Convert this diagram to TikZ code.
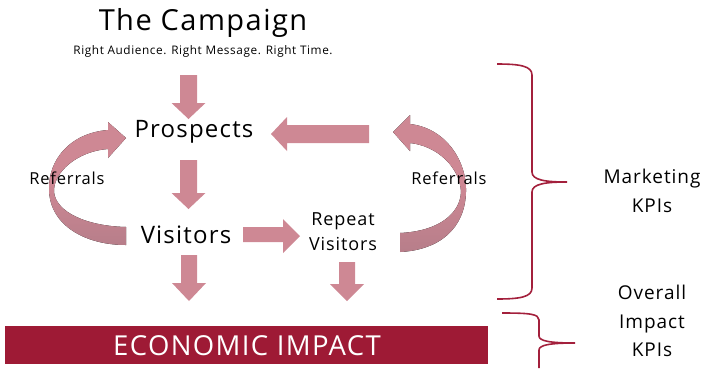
\documentclass[tikz,border=0pt]{standalone}
\usepackage{fontspec}
\setmainfont{Open Sans}[LetterSpace=5]
\definecolor{apink}{RGB}{206,136,148}
\definecolor{adark}{RGB}{183,126,138}
\definecolor{bar}{RGB}{158,26,53}
\definecolor{brace}{RGB}{163,32,60}
\newcommand\dnarr[5]{% x, ytop, ybase, ytip, shaft half width
  \fill[apink] (#1-#5,#2) -- (#1+#5,#2) -- (#1+#5,#3) -- (#1+17,#3) -- (#1,#4) -- (#1-17,#3) -- (#1-#5,#3) -- cycle;}
\begin{document}
\begin{tikzpicture}[x=1pt,y=-1pt,
  lbl/.style={inner sep=0pt, align=center, text=black},
  bracestyle/.style={draw=brace, line width=1.6pt}]
\useasboundingbox (0,0) rectangle (706,368);
% texts
\node[lbl, font=\fontsize{29}{30}\selectfont] (title) at (203,23) {The Campaign};
\node[lbl, font=\fontsize{11.8}{12}\selectfont] (sub) at (203,51) {Right Audience. Right Message. Right Time.};
\node[lbl, font=\fontsize{24}{25}\selectfont] (pros) at (194,132) {Prospects};
\node[lbl, font=\fontsize{24}{25}\selectfont] (vis) at (186,235) {Visitors};
\node[lbl, font=\fontsize{18}{25}\selectfont] (rep) at (343,232) {Repeat\\Visitors};
% straight arrows
\dnarr{188.5}{75}{103}{119}{8.5}
\dnarr{188.5}{160}{193}{209}{8.5}
\dnarr{189}{255}{283}{301}{8}
\dnarr{347}{262}{284}{301}{8}
\fill[apink] (369,125) -- (369,143) -- (287,143) -- (287,151) -- (271,134) -- (287,117) -- (287,125) -- cycle;
\fill[apink] (243,227) -- (283,227) -- (283,219) -- (300,236) -- (283,253) -- (283,242) -- (243,242) -- cycle;
% left curved arrow
\fill[top color=apink, bottom color=adark, middle color=apink]
  (126,227) .. controls (86,226) and (56,212) .. (54,192)
  .. controls (53,172) and (78,151) .. (108,149)
  -- (108,158) -- (126,138) -- (108,122) -- (108,130)
  .. controls (70,133) and (48,160) .. (49,190)
  .. controls (50,226) and (86,245) .. (126,245) -- cycle;
% right curved arrow
\fill[top color=apink, bottom color=adark, middle color=apink]
  (400,233) .. controls (440,231) and (460,213) .. (461,192)
  .. controls (460,168) and (438,146) .. (410,143)
  -- (410,151) -- (393,132) -- (410,115) -- (410,124)
  .. controls (445,128) and (467,160) .. (466,192)
  .. controls (465,228) and (440,250) .. (400,252) -- cycle;
\node[lbl, font=\fontsize{16.5}{18}\selectfont] (refl) at (67,178) {Referrals};
\node[lbl, font=\fontsize{16.5}{18}\selectfont] (refr) at (449,178) {Referrals};
% bar
\fill[bar] (5,326) rectangle (488,364);
\node[lbl, text=white, font=\fontsize{27.5}{29}\selectfont] (eco) at (247,346) {ECONOMIC IMPACT};
% braces
\draw[bracestyle] (497,64) .. controls (520,64) and (532,66) .. (532,75) -- (532,172)
  .. controls (532,180) and (545,182) .. (567,182)
  .. controls (545,182) and (532,184) .. (532,192) -- (532,288)
  .. controls (532,297) and (520,299) .. (497,299);
\draw[bracestyle] (502,313) .. controls (530,313) and (539,314) .. (539,320) -- (539,336)
  .. controls (539,341) and (550,343) .. (575,343)
  .. controls (550,343) and (539,345) .. (539,350) -- (539,368);
\node[lbl, font=\fontsize{19}{29}\selectfont] (mk) at (652,191) {Marketing\\KPIs};
\node[lbl, font=\fontsize{19}{28.5}\selectfont] (ov) at (652,321) {Overall\\Impact\\KPIs};
\end{tikzpicture}
\end{document}
